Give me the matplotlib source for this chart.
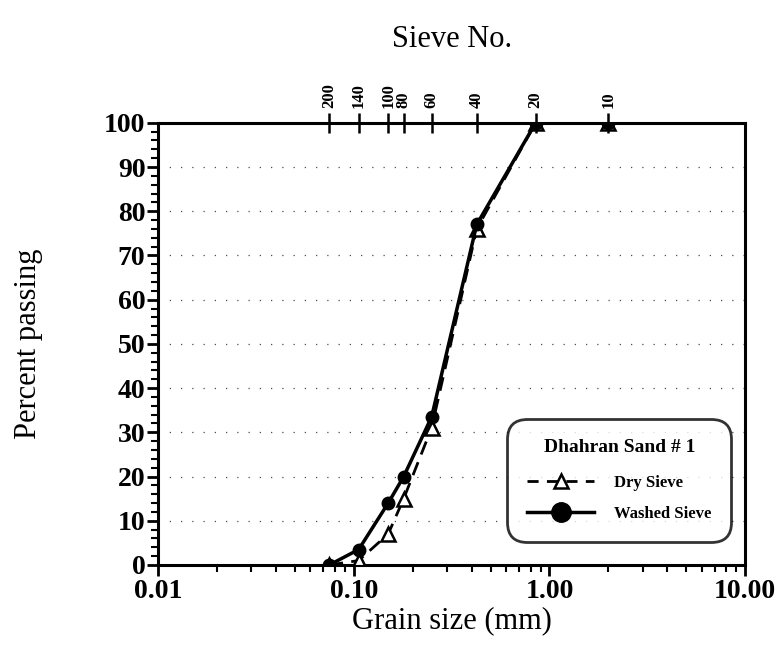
import matplotlib.pyplot as plt
import numpy as np
from matplotlib.ticker import FixedLocator, MultipleLocator, LogLocator, NullFormatter
from matplotlib.lines import Line2D

# sieve openings (mm) and sieve numbers
grain_size = [0.075, 0.106, 0.15, 0.18, 0.25, 0.425, 0.85, 2.0]
sieve_no = ['200', '140', '100', '80', '60', '40', '20', '10']

# percent passing
dry_sieve = [0, 1, 7, 15, 31, 76, 100, 100]
washed_sieve = [0, 3.5, 14, 20, 33.5, 77, 100, 100]

x_ticks = [0.01, 0.1, 1.0, 10.0]
x_tick_labels = ['0.01', '0.10', '1.00', '10.00']

plt.rcParams['font.family'] = ['Liberation Serif', 'DejaVu Serif']
plt.rcParams['font.weight'] = 'bold'

fig = plt.figure(figsize=(7.82, 6.71), dpi=100)
ax = fig.add_axes([0.202, 0.158, 0.751, 0.659])

# dotted horizontal grid (sparse, like the scanned original)
for yv in range(10, 100, 10):
    ax.axhline(yv, color='0.3', lw=0.9, ls=(0, (1, 8)), zorder=0)

ax.plot(grain_size, dry_sieve, '--', color='black', lw=2.0, dashes=(5, 3),
        marker='^', markersize=10, markerfacecolor='white', markeredgecolor='black',
        markeredgewidth=1.8, zorder=3)
ax.plot(grain_size, washed_sieve, '-', color='black', lw=2.5,
        marker='o', markersize=9, markerfacecolor='black', markeredgecolor='black', zorder=4)

ax.set_xscale('log')
ax.set_xlim(0.01, 10)
ax.set_ylim(0, 100)
ax.xaxis.set_major_locator(FixedLocator(x_ticks))
ax.set_xticklabels(x_tick_labels)
ax.xaxis.set_minor_locator(LogLocator(base=10, subs=np.arange(2, 10)))
ax.xaxis.set_minor_formatter(NullFormatter())
ax.yaxis.set_major_locator(MultipleLocator(10))
ax.yaxis.set_minor_locator(MultipleLocator(2))

for side in ['left', 'bottom', 'right', 'top']:
    ax.spines[side].set_linewidth(2.2)

ax.tick_params(axis='both', which='major', direction='out', length=8, width=2, labelsize=20, pad=2)
ax.tick_params(axis='both', which='minor', direction='out', length=5, width=1.5)
ax.tick_params(axis='y', pad=1)

ax.set_xlabel('Grain size (mm)', fontsize=22, fontweight='normal', labelpad=2)
ax.set_ylabel('Percent passing', fontsize=22, fontweight='normal', labelpad=44)

# top axis with sieve numbers
ax_top = ax.twiny()
ax_top.set_xscale('log')
ax_top.set_xlim(ax.get_xlim())
ax_top.xaxis.set_major_locator(FixedLocator(grain_size))
ax_top.set_xticklabels(sieve_no, rotation=90, fontsize=12)
ax_top.xaxis.set_minor_locator(FixedLocator([]))
ax_top.tick_params(axis='x', which='major', direction='inout', length=14, width=1.8, pad=4)
ax_top.set_xlabel('Sieve No.', fontsize=22, fontweight='normal', labelpad=26)

# legend
handles = [
    Line2D([], [], color='black', ls='--', lw=2, dashes=(4, 3), marker='^', markersize=10,
           markerfacecolor='white', markeredgecolor='black', markeredgewidth=1.8),
    Line2D([], [], color='black', ls='-', lw=2.5, marker='o', markersize=14,
           markerfacecolor='black'),
]
leg = ax.legend(handles, ['Dry Sieve', 'Washed Sieve'], title='Dhahran Sand # 1',
                loc='lower right', bbox_to_anchor=(0.985, 0.04), fontsize=12,
                title_fontsize=14, frameon=True, fancybox=True, edgecolor='black',
                handlelength=4.0, borderpad=1.0, labelspacing=0.9, handletextpad=1.2)
leg.get_frame().set_linewidth(2)
leg.get_frame().set_boxstyle('round,pad=0.2,rounding_size=1.2')
leg.get_title().set_fontweight('bold')
leg._legend_box.sep = 14

fig.savefig('out.png', dpi=100)
